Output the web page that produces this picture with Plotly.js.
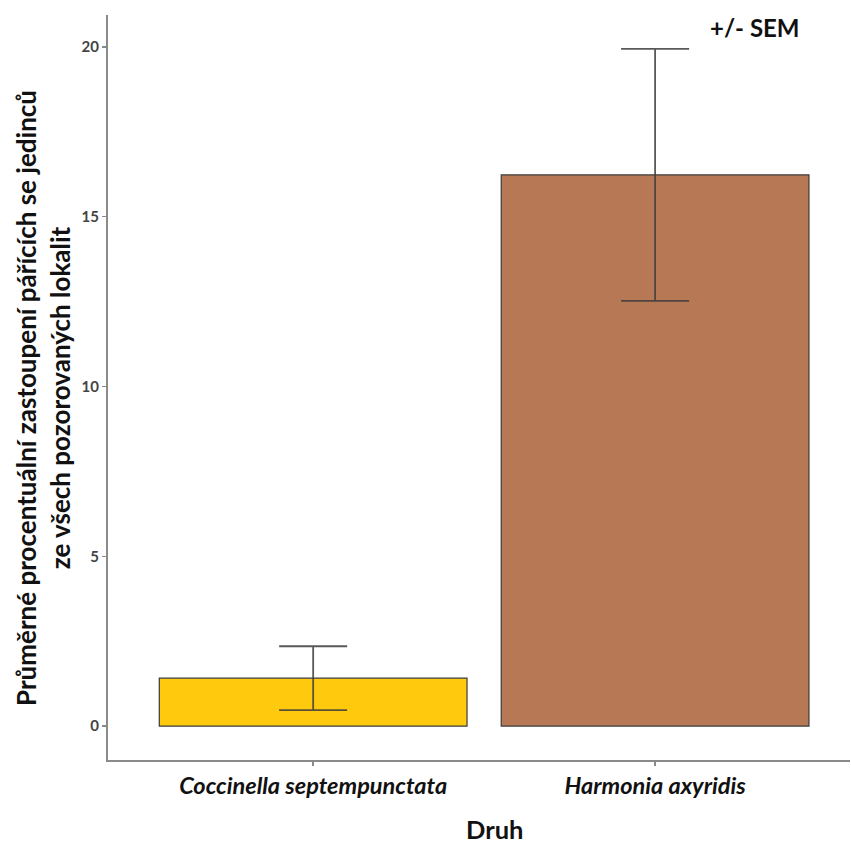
<!DOCTYPE html>
<html>
<head>
<meta charset="utf-8">
<script src="https://cdn.plot.ly/plotly-3.0.1.min.js"></script>
<style>html,body{margin:0;padding:0;background:#fff;}#chart{width:851px;height:845px;}</style>
</head>
<body>
<div id="chart"></div>
<script>
const categories = ["Coccinella septempunctata", "Harmonia axyridis"];
const meanValues = [1.41, 16.23];
const semValues = [0.94, 3.71];
const barColors = ["#FFC90E", "#B77955"];
const yTickValues = [0, 5, 10, 15, 20];

const trace = {
  type: 'bar',
  x: categories.map((c, i) => i),
  y: meanValues,
  width: 0.9,
  marker: {color: barColors, line: {color: '#3a3a3a', width: 1.2}},
  error_y: {type: 'data', array: semValues, visible: true, color: 'rgba(60,60,60,0.85)', thickness: 1.8, width: 34},
  hoverinfo: 'none'
};

const FONT = 'Lato, Open Sans, sans-serif';
const layout = {
  width: 851, height: 845,
  margin: {l: 108, r: 1, t: 15, b: 85},
  paper_bgcolor: '#fff', plot_bgcolor: '#fff',
  showlegend: false,
  bargap: 0,
  xaxis: {
    range: [-0.6, 1.57],
    tickvals: [0, 1],
    ticktext: categories.map(c => '<b><i>' + c + '</i></b>'),
    tickfont: {family: FONT, size: 23.5, color: '#111'},
    showline: true, linecolor: '#8a8a8a', linewidth: 2,
    ticks: 'outside', ticklen: 4, tickcolor: '#8a8a8a', tickwidth: 1.5,
    showgrid: false, zeroline: false, fixedrange: true
  },
  yaxis: {
    range: [-1.0, 20.94],
    tickvals: yTickValues,
    ticktext: yTickValues.map(v => '<b>' + v + '</b>'),
    tickfont: {family: FONT, size: 15, color: '#444'},
    showline: true, linecolor: '#8a8a8a', linewidth: 2,
    ticks: 'outside', ticklen: 4, tickcolor: '#8a8a8a', tickwidth: 1.5,
    showgrid: false, zeroline: false, fixedrange: true
  },
  annotations: [
    {text: '<b>Průměrné procentuální zastoupení pářících se jedinců<br>ze všech pozorovaných lokalit</b>',
     xref: 'paper', yref: 'paper', x: (43 - 108) / 742, y: (760 - 398) / 745, textangle: -90,
     showarrow: false, xanchor: 'center', yanchor: 'middle',
     font: {family: FONT, size: 26, color: '#111'}},
    {text: '<b>Druh</b>', xref: 'paper', yref: 'paper', x: (494 - 108) / 742, y: -(829 - 760) / 745,
     showarrow: false, xanchor: 'center', yanchor: 'middle',
     font: {family: FONT, size: 25.5, color: '#111'}},
    {text: '<b>+/- SEM</b>', xref: 'paper', yref: 'paper', x: (755 - 108) / 742, y: (760 - 27) / 745,
     showarrow: false, xanchor: 'center', yanchor: 'middle',
     font: {family: FONT, size: 24, color: '#111'}}
  ]
};

Plotly.newPlot('chart', [trace], layout, {displayModeBar: false, staticPlot: true});
</script>
</body>
</html>
